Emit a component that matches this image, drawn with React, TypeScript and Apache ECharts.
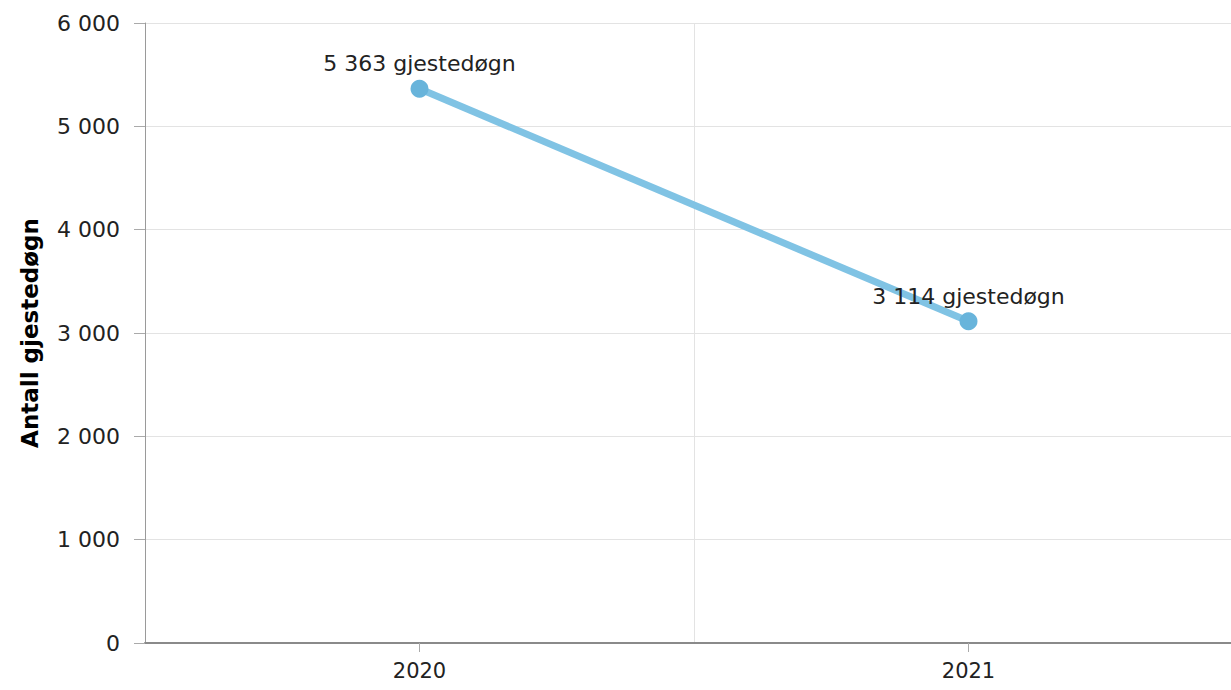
import React, { useEffect, useRef } from "react";
import * as echarts from "echarts";

const years: string[] = ["2020", "2021"];
const guestNights: number[] = [5363, 3114];
const yTicks: number[] = [0, 1000, 2000, 3000, 4000, 5000, 6000];
const yAxisName = "Antall gjestedøgn";
const unit = "gjestedøgn";

const fmt = (n: number) => String(n).replace(/\B(?=(\d{3})+(?!\d))/g, " ");
const FONT = "'DejaVu Sans', Verdana, sans-serif";

export default function App() {
  const ref = useRef<HTMLDivElement>(null);
  useEffect(() => {
    if (!ref.current) return;
    const chart = echarts.init(ref.current, undefined, { renderer: "svg" });
    chart.setOption({
      animation: false,
      textStyle: { fontFamily: FONT },
      grid: { left: 145, top: 23, bottom: 47, right: 0, containLabel: false },
      xAxis: {
        type: "category",
        data: years,
        boundaryGap: true,
        axisLine: { show: true, lineStyle: { color: "#8a8a8a", width: 2 } },
        axisTick: { show: true, alignWithLabel: true, length: 9, lineStyle: { color: "#aaaaaa" } },
        axisLabel: { color: "#222", fontSize: 21, fontFamily: FONT, margin: 17 },
        splitLine: { show: true, lineStyle: { color: "#e3e3e3", width: 1 } },
      },
      yAxis: {
        type: "value",
        min: yTicks[0],
        max: yTicks[yTicks.length - 1],
        interval: 1000,
        name: yAxisName,
        nameLocation: "middle",
        nameGap: 104,
        nameTextStyle: { color: "#000", fontSize: 23, fontWeight: "bold", fontFamily: FONT },
        axisLine: { show: true, lineStyle: { color: "#9a9a9a", width: 1 } },
        axisTick: { show: true, length: 11, lineStyle: { color: "#aaaaaa" } },
        axisLabel: { color: "#222", fontSize: 22, fontFamily: FONT, margin: 25, formatter: (v: number) => fmt(v) },
        splitLine: { show: true, lineStyle: { color: "#e3e3e3", width: 1 } },
      },
      series: [
        {
          type: "line",
          data: guestNights,
          symbol: "circle",
          symbolSize: 18,
          lineStyle: { color: "#80c3e4", width: 7 },
          itemStyle: { color: "#68b4db" },
          label: {
            show: true,
            position: "top",
            distance: 5,
            color: "#222",
            fontSize: 22,
            fontFamily: FONT,
            formatter: (p: any) => `${fmt(p.value)} ${unit}`,
          },
        },
      ],
    });
    return () => chart.dispose();
  }, []);
  return (
    <div style={{ position: "fixed", left: 0, top: 0, width: 1231, height: 690, overflow: "hidden", background: "#fff" }}>
      <div ref={ref} style={{ width: 1243, height: 690 }} />
    </div>
  );
}
